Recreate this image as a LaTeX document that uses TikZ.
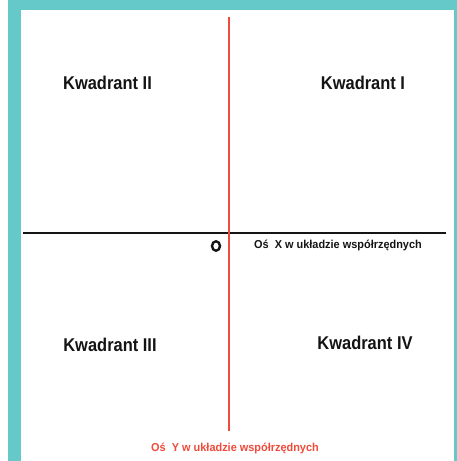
\documentclass[tikz,border=0pt]{standalone}
\usepackage{fontspec}
\usetikzlibrary{shapes.geometric}
\newfontfamily\condfont[FakeStretch=0.89]{Liberation Sans}
\newfontfamily\smallcond[FakeStretch=0.95]{Liberation Sans}
\definecolor{teal1}{HTML}{66C9C9}
\definecolor{axisred}{HTML}{F04A3A}
\definecolor{ink}{HTML}{141414}
\begin{document}
\begin{tikzpicture}[x=1pt,y=-1pt,
  quad/.style={font=\condfont\bfseries\fontsize{18.5}{18.5}\selectfont, text=ink, inner sep=0pt},
  axlab/.style={font=\smallcond\bfseries\fontsize{11.5}{11.5}\selectfont, inner sep=0pt},
  xaxis/.style={line width=2.8pt, draw=ink},
  yaxis/.style={line width=2.6pt, draw=axisred}]
\useasboundingbox (0,0) rectangle (457,461);
\fill[white] (0,0) rectangle (457,461);
\fill[teal1] (8,0) rectangle (457,461);
\fill[white] (21,10) rectangle (454,461);
% axes
\coordinate (xl) at (23,233);
\coordinate (xr) at (446,233);
\coordinate (yt) at (229,17);
\coordinate (yb) at (229,431);
\draw[xaxis] (xl) -- (xr);
\draw[yaxis] (yt) -- (yb);
% labels
\node[quad] (q2) at (107.5,83) {Kwadrant II};
\node[quad] (q1) at (363,83) {Kwadrant I};
\node[quad] (q3) at (110,345) {Kwadrant III};
\node[quad] (q4) at (365,343) {Kwadrant IV};
\node[ellipse, draw=ink, line width=2.4pt, minimum width=8pt, minimum height=9.5pt, inner sep=0pt] (o) at (216,246) {};
\node[axlab, text=ink, anchor=west] (xlab) at (254,245) {Oś\ \ X w układzie współrzędnych};
\node[axlab, text=axisred] (ylab) at (235,448) {Oś\ \ Y w układzie współrzędnych};
\end{tikzpicture}
\end{document}
